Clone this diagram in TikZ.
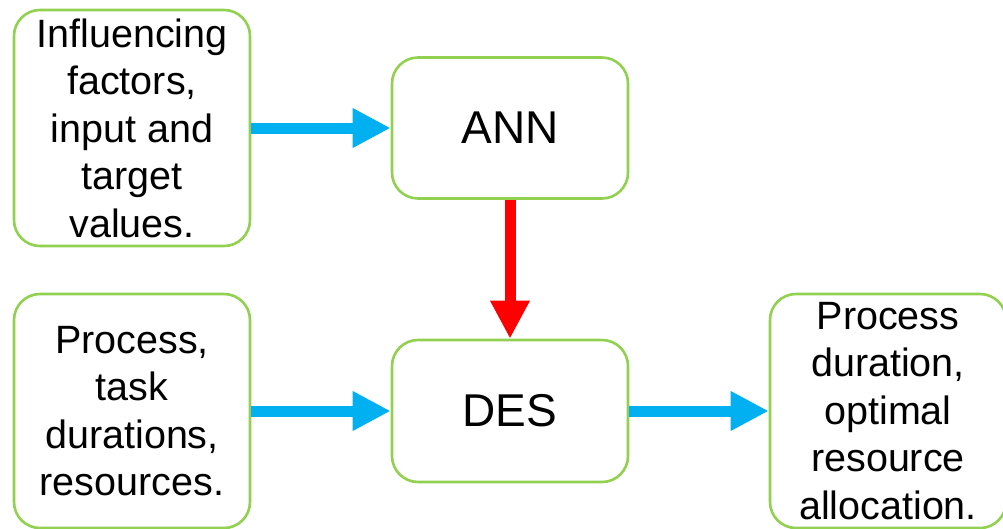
\documentclass[tikz,border=0pt]{standalone}
\usepackage{fontspec}
\setmainfont{Liberation Sans}
\usetikzlibrary{arrows.meta}
\definecolor{boxgreen}{HTML}{92D050}
\definecolor{flowblue}{HTML}{00B0F0}
\definecolor{flowred}{HTML}{FF0000}
\tikzset{
  block/.style={draw=boxgreen, line width=2.6pt, rounded corners=26pt, fill=white,
    minimum width=236pt, align=center, inner sep=0pt,
    font=\fontsize{39.5pt}{47.5pt}\selectfont},
  core/.style={block, font=\fontsize{46pt}{52pt}\selectfont},
  flow/.style={line width=11pt, -{Triangle[length=38pt,width=37pt]}},
}
\begin{document}
\begin{tikzpicture}[x=1pt,y=-1pt]
  \useasboundingbox (0,0) rectangle (1003,528);
  % input boxes on the left
  \node[block, minimum height=236pt] (inf) at (132,128)
    {Influencing\\factors,\\input and\\target\\values.};
  \node[block, minimum height=234pt] (proc) at (132,411)
    {Process,\\task\\durations,\\resources.};
  % model blocks in the middle
  \node[core, minimum height=141pt] (ann) at (510,128) {ANN};
  \node[core, minimum height=142pt] (des) at (510,411) {DES};
  % result box on the right
  \node[block, minimum height=234pt] (out) at (888,411)
    {Process\\duration,\\optimal\\resource\\allocation.};
  % connectors
  \draw[flow, flowblue] (inf.east) -- (ann.west);
  \draw[flow, flowblue] (proc.east) -- (des.west);
  \draw[flow, flowblue] (des.east) -- (out.west);
  \draw[flow, flowred] (ann.south) -- (des.north);
\end{tikzpicture}
\end{document}
